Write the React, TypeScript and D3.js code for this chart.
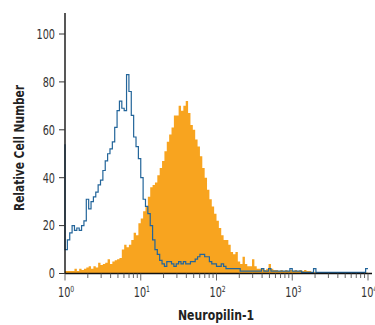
import * as d3 from 'd3';
import React from 'react';

// histogram channels: 128 log-spaced bins over 10^0 .. 10^4
const binCount = 128;
const decades = [1, 10, 100, 1000, 10000];
const yTicks = [0, 20, 40, 60, 80, 100];

// isotype control (blue outline)
const controlEdge = 54; // pile-up in the first channel
const controlCounts = [
    10, 14, 17, 20, 18, 19, 18, 20, 22, 31,
    27, 30, 32, 34, 37, 39, 43, 47, 50, 52,
    55, 61, 68, 72, 69, 68, 83, 76, 66, 57,
    53, 48, 40, 31, 28, 25, 20, 14, 10, 8,
    5.5, 4, 3, 5, 5, 4, 3, 4, 5, 4,
    5, 4, 4, 5, 5, 6, 7, 8, 8, 7,
    7, 5, 4, 4, 3, 3, 4, 3, 2, 2,
    2, 2, 2, 2, 1, 1, 1, 1, 1, 1,
    1, 1, 1, 2, 1, 1, 2, 1, 1, 1,
    1, 1, 1, 1, 1, 2, 1, 1, 1, 1,
    0.5, 0.5, 0.5, 0.5, 0.5, 2, 0.5, 0.5, 0.5, 0.5,
    0.5, 0.5, 0.5, 0.5, 0.5, 0.5, 0.5, 0.5, 0.5, 0.5,
    0.5, 0.5, 0.5, 0.5, 0.5, 0.5, 0.5, 2,
];

// Neuropilin-1 stained cells (orange fill)
const stainedCounts = [
    1, 1, 1, 1, 2, 1, 2, 1.5, 2, 2.5,
    3, 2, 3, 2.5, 4.5, 3.5, 4, 4.5, 6, 4,
    5, 5.5, 6, 6.5, 10, 12, 11, 12, 14, 17,
    16, 21, 23, 26, 28, 32, 36, 37, 38, 41,
    44, 47, 51, 55, 58, 61, 66, 66, 70, 68,
    70, 72, 67, 62, 60, 56, 53, 49, 44, 40,
    35, 31, 28, 25, 22, 19, 16, 14, 14, 12,
    9, 8, 9, 5, 4, 7, 4, 3, 3, 6,
    3, 2, 2, 2, 1.5, 2, 4, 2, 1.5, 1.5,
    1, 1.5, 1, 1.5, 1, 1.5, 1, 1.5, 1, 1.5,
    1, 1.5, 1, 1, 0.5, 0.5, 0.5, 0.5, 0.5, 0.5,
    0.5, 0.5, 0.5, 0.5, 0.5, 0.5, 0.5, 0.5, 0.5, 0.5,
    0.4, 0.4, 0.4, 0.3, 0.3, 0.3, 0.3, 0.3,
];

const W = 375;
const H = 325;
const font = "'Liberation Sans Narrow', 'DejaVu Sans Condensed', 'Liberation Sans', sans-serif";

export default function App() {
    const x = d3.scaleLog().domain([1, 10000]).range([65, 368]);
    const y = d3.scaleLinear().domain([0, 100]).range([273.5, 34]);

    // bin edges in data units
    const edges = d3.range(binCount + 1).map(i => Math.pow(10, (i * 4) / binCount));

    const stained = stainedCounts.map((v, i) => ({ x: edges[i], v }));
    stained.push({ x: edges[binCount], v: stainedCounts[binCount - 1] });

    const control = [{ x: edges[0], v: controlEdge }].concat(
        controlCounts.map((v, i) => ({ x: edges[i], v }))
    );
    control.push({ x: edges[binCount], v: controlCounts[binCount - 1] });

    const area = d3.area<{ x: number; v: number }>()
        .x(d => x(d.x))
        .y0(y(0))
        .y1(d => y(d.v))
        .curve(d3.curveStepAfter);

    const line = d3.line<{ x: number; v: number }>()
        .x(d => x(d.x))
        .y(d => y(d.v))
        .curve(d3.curveStepAfter);

    const xTicks = x.ticks();
    const isMajor = (t: number) => Math.abs(Math.log10(t) - Math.round(Math.log10(t))) < 1e-6;

    return (
        <svg width={W} height={H} style={{ position: 'absolute', left: 0, top: 0 }} fontFamily={font}>
            <rect width={W} height={H} fill="#fff" />

            <path d={area(stained) || ''} fill="#F8A41F" />
            <path d={line(control) || ''} fill="none" stroke="#23659a" strokeWidth={1.2} />

            {/* y axis */}
            <line x1={65} x2={65} y1={13} y2={y(0)} stroke="#111" strokeWidth={1.4} />
            {yTicks.map(t => (
                <g key={t}>
                    <line x1={59} x2={65} y1={y(t)} y2={y(t)} stroke="#333" strokeWidth={1} />
                    <g transform={`translate(55,${y(t)}) scale(0.8,1)`}>
                        <text dy="0.36em" textAnchor="end" fontSize={13.5} fill="#333">{t}</text>
                    </g>
                </g>
            ))}

            {/* x axis */}
            <line x1={65} x2={372} y1={y(0)} y2={y(0)} stroke="#111" strokeWidth={1.4} />
            {xTicks.map((t, i) => (
                <line key={i} x1={x(t)} x2={x(t)} y1={y(0)} y2={y(0) + (isMajor(t) ? 7 : 4.5)}
                    stroke="#555" strokeWidth={0.9} />
            ))}
            {decades.map((t, i) => (
                <g key={t} transform={`translate(${x(t) - 7},297) scale(0.8,1)`}>
                    <text fontSize={13.5} fill="#333">
                        10<tspan fontSize={8.5} dy={-5}>{i}</tspan>
                    </text>
                </g>
            ))}

            {/* titles */}
            <text transform="translate(24,148) rotate(-90)" textAnchor="middle" fontSize={14.5}
                fontWeight="bold" fill="#222" textLength={126} lengthAdjust="spacingAndGlyphs">Relative Cell Number</text>
            <text x={216} y={320} textAnchor="middle" fontSize={14.5} fontWeight="bold" fill="#222"
                textLength={76} lengthAdjust="spacingAndGlyphs">Neuropilin-1</text>
        </svg>
    );
}
